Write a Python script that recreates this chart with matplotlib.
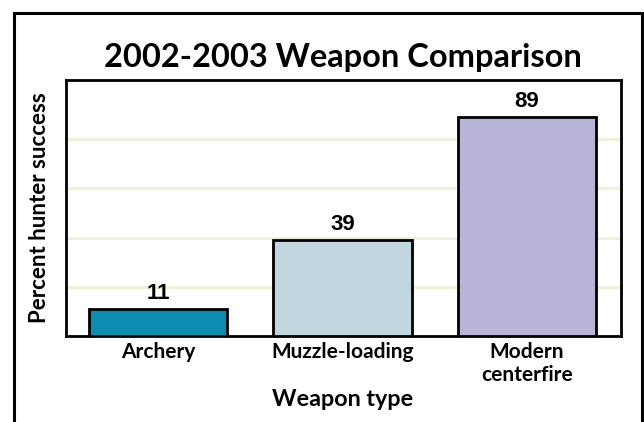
import matplotlib
matplotlib.use("Agg")
import matplotlib.pyplot as plt
from matplotlib.patches import Rectangle

categories = ["Archery", "Muzzle-loading", "Modern\ncenterfire"]
values = [11, 39, 89]
colors = ["#0a8db0", "#c2d6e0", "#b9b5d9"]
yticks = [0, 20, 40, 60, 80]

fig = plt.figure(figsize=(6.44, 4.22), dpi=100)
fig.patch.set_facecolor("white")

# outer frame
fig.patches.append(Rectangle((14/644, -0.05), (642-14)/644, 1.05 - 13/422,
                             transform=fig.transFigure, fill=False,
                             edgecolor="black", linewidth=2.2, zorder=0))

ax = fig.add_axes([66/644, (422-336)/422, 555/644, 256/422])
x = range(len(categories))
bars = ax.bar(x, values, width=0.75, color=colors, edgecolor="black",
              linewidth=2, zorder=3)
ax.set_xlim(-0.5, 2.51)
ax.set_ylim(0, 104)
ax.set_yticks(yticks)
ax.set_yticklabels([])
ax.yaxis.grid(True, color="#eef2d8", linewidth=2, zorder=0)
ax.tick_params(axis="both", length=0)
ax.tick_params(axis="x", pad=4)
ax.set_xticks(list(x))
ax.set_xticklabels(categories, fontsize=15, fontweight="bold",
                   family="Lato", linespacing=1.2)
for s in ax.spines.values():
    s.set_linewidth(2)
    s.set_color("black")

for xi, v in zip(x, values):
    ax.text(xi, v + 2.0, str(v), ha="center", va="bottom", fontsize=16,
            fontweight="bold", family="Liberation Sans")

fig.text(343/644, 1 - 399/422, "Weapon type", ha="center", va="center",
         fontsize=16.8, fontweight="bold", family="Lato")
fig.text(40/644, 1 - 208/422, "Percent hunter success", ha="center",
         va="center", rotation=90, fontsize=16, fontweight="bold",
         family="Lato")
fig.text(343/644, 1 - 57/422, "2002-2003 Weapon Comparison", ha="center",
         va="center", fontsize=23.5, fontweight="bold", family="Lato")

fig.savefig("out.png", dpi=100)
